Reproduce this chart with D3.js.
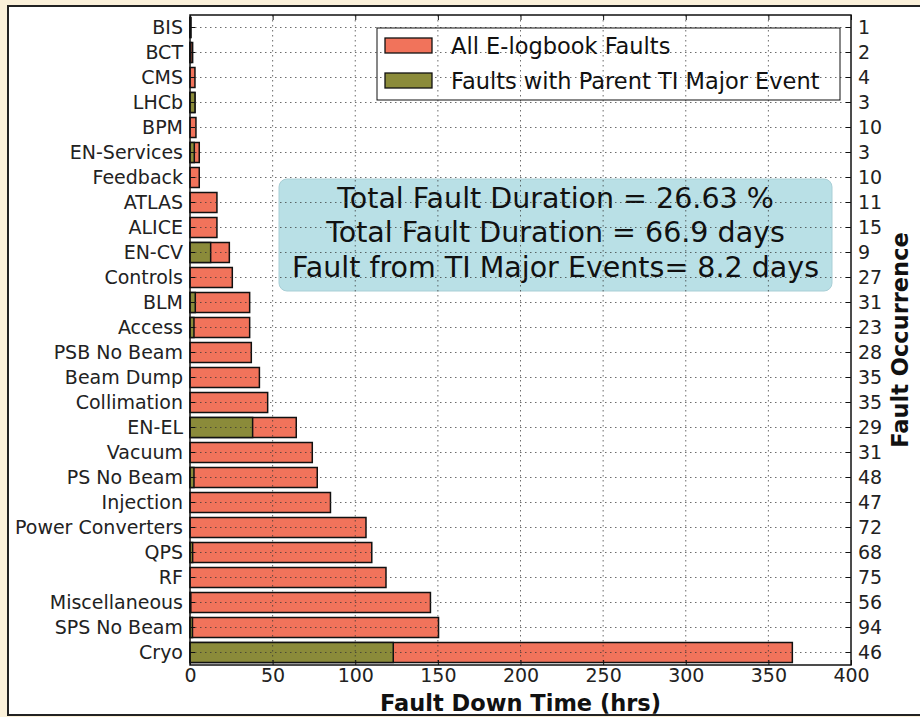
<!DOCTYPE html>
<html><head><meta charset="utf-8">
<script src="https://cdn.jsdelivr.net/npm/d3@7"></script>
<style>
body{margin:0;background:#fbf1da;}
svg{display:block;font-family:"DejaVu Sans",sans-serif;}
</style></head><body>
<svg id="c" width="920" height="717"></svg>
<script>
const categories = ["BIS","BCT","CMS","LHCb","BPM","EN-Services","Feedback","ATLAS","ALICE","EN-CV","Controls","BLM","Access","PSB No Beam","Beam Dump","Collimation","EN-EL","Vacuum","PS No Beam","Injection","Power Converters","QPS","RF","Miscellaneous","SPS No Beam","Cryo"];
const allFaults = [0.6,1.6,3,3,3.6,5.6,5.6,16.3,16.3,23.8,25.6,36.1,36.1,37.1,42,47,64.3,74,77,85,106.5,110,118.6,145.5,150.4,364.5];
const majorFaults = [0.3,0.5,0,3,0,2.6,0,0,0,12.5,0,3.2,2.4,0,0,0,37.9,0,2.4,0,0,1.6,0,0.5,1.5,123];
const occurrences = ["1","2","4","3","10","3","10","11","15","9","27","31","23","28","35","35","29","31","48","47","72","68","75","56","94","46"];
const xTicks = [0,50,100,150,200,250,300,350,400];
const legendLabels = ["All E-logbook Faults","Faults with Parent TI Major Event"];
const boxLines = ["Total Fault Duration = 26.63 %","Total Fault Duration = 66.9 days","Fault from TI Major Events= 8.2 days"];

const RED="#f1735b", GREEN="#8b8b3a";
const svg=d3.select("#c");
// figure panel
svg.append("rect").attr("x",8).attr("y",6).attr("width",930).attr("height",709)
  .attr("fill","#fff").attr("stroke","#222").attr("stroke-width",2);

const L=190,R=851,T=15,B=665;
const x=d3.scaleLinear().domain([0,400]).range([L,R]);
const y=d3.scaleBand().domain(categories).range([T,B]).paddingInner(0.2).paddingOuter(0.1);
const yc=d=>y(d)+y.bandwidth()/2;

const g=svg.append("g");
// bars
g.selectAll("rect.all").data(categories).join("rect").attr("class","all")
  .attr("x",x(0)).attr("y",d=>y(d)).attr("height",y.bandwidth())
  .attr("width",(d,i)=>x(allFaults[i])-x(0))
  .attr("fill",RED).attr("stroke","#111").attr("stroke-width",1.5);
g.selectAll("rect.maj").data(categories).join("rect").attr("class","maj")
  .attr("x",x(0)).attr("y",d=>y(d)).attr("height",y.bandwidth())
  .attr("width",(d,i)=>x(majorFaults[i])-x(0))
  .attr("fill",GREEN).attr("stroke","#111").attr("stroke-width",1.5)
  .attr("display",(d,i)=>majorFaults[i]>0?null:"none");

// text box
const bx=279,by=179,bw=553,bh=112;
svg.append("rect").attr("x",bx).attr("y",by).attr("width",bw).attr("height",bh).attr("rx",8)
  .attr("fill","#b9e0e6").attr("stroke","#a9cfd6").attr("stroke-width",1);
svg.selectAll("text.box").data(boxLines).join("text").attr("class","box")
  .attr("x",bx+bw/2).attr("y",(d,i)=>by+28.5+i*34.5).attr("text-anchor","middle")
  .attr("font-size",28.5).attr("fill","#111").text(d=>d);

// grid (on top)
const grid=svg.append("g").attr("stroke","#333").attr("stroke-width",0.9).attr("stroke-dasharray","1.5,3.5").attr("opacity",0.8);
grid.selectAll("line.v").data(xTicks.slice(1,-1)).join("line")
  .attr("x1",d=>x(d)).attr("x2",d=>x(d)).attr("y1",T).attr("y2",B);
grid.selectAll("line.h").data(categories).join("line")
  .attr("x1",L).attr("x2",R).attr("y1",d=>yc(d)).attr("y2",d=>yc(d));

// legend
const lg=svg.append("g");
lg.append("rect").attr("x",377).attr("y",28).attr("width",463).attr("height",72)
  .attr("fill","none").attr("stroke","#111").attr("stroke-width",1);
[RED,GREEN].forEach((c,i)=>{
  lg.append("rect").attr("x",385).attr("y",38+i*35).attr("width",47).attr("height",15)
    .attr("fill",c).attr("stroke","#111").attr("stroke-width",1.3);
  lg.append("text").attr("x",451).attr("y",54+i*35).attr("font-size",22.5).attr("fill","#111").text(legendLabels[i]);
});

// axes frame
svg.append("rect").attr("x",L).attr("y",T).attr("width",R-L).attr("height",B-T)
  .attr("fill","none").attr("stroke","#111").attr("stroke-width",1.5);

// x axis ticks (inward) and labels
const xa=svg.append("g").attr("transform",`translate(0,${B})`)
  .call(d3.axisBottom(x).tickValues(xTicks).tickSize(-5).tickPadding(3).tickFormat(d3.format("d")));
const xt=svg.append("g").attr("transform",`translate(0,${T})`)
  .call(d3.axisTop(x).tickValues(xTicks).tickSize(-5).tickFormat(""));
const ya=svg.append("g").attr("transform",`translate(${L},0)`)
  .call(d3.axisLeft(y).tickSize(-5).tickPadding(7));
const yr=svg.append("g").attr("transform",`translate(${R},0)`)
  .call(d3.axisRight(y).tickSize(-5).tickPadding(7).tickFormat((d,i)=>occurrences[i]));
[xa,xt,ya,yr].forEach(a=>{
  a.select(".domain").remove();
  a.selectAll("line").attr("stroke","#111").attr("stroke-width",1);
  a.selectAll("text").attr("font-size",19).attr("fill","#222").attr("font-family","DejaVu Sans");
});

svg.append("text").attr("x",(L+R)/2).attr("y",711).attr("text-anchor","middle")
  .attr("font-size",22.5).attr("font-weight","bold").attr("fill","#111").text("Fault Down Time (hrs)");
svg.append("text").attr("transform","translate(908,340) rotate(-90)").attr("text-anchor","middle")
  .attr("font-size",22.5).attr("font-weight","bold").attr("fill","#111").text("Fault Occurrence");
</script></body></html>
